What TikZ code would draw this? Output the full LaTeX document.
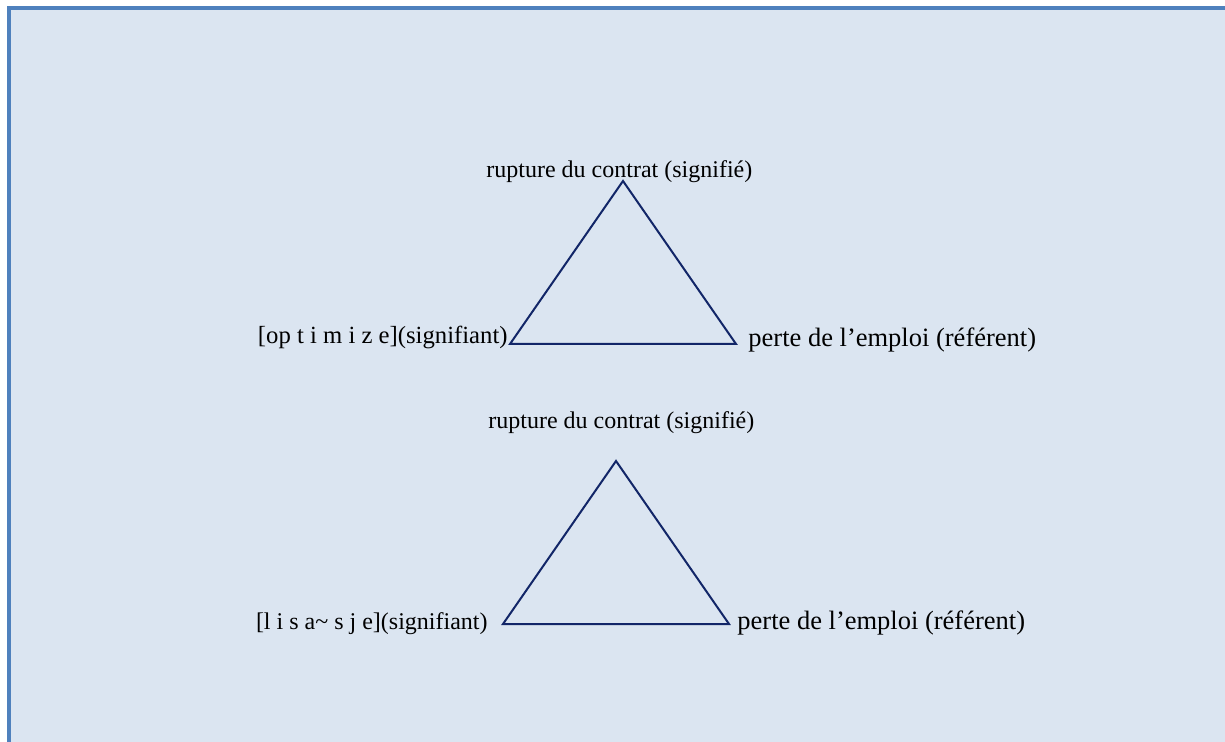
\documentclass[tikz,border=0pt]{standalone}
\usepackage{fontspec}
\setmainfont{Liberation Serif}
\usetikzlibrary{positioning}
\definecolor{panelblue}{RGB}{219,229,241}
\definecolor{frameblue}{RGB}{79,129,189}
\definecolor{linenavy}{RGB}{18,38,104}

\begin{document}
\begin{tikzpicture}[x=0.5pt,y=-0.5pt,
    lbl/.style={inner sep=0pt,font=\fontsize{12}{14}\selectfont},
    reflbl/.style={inner sep=0pt,font=\fontsize{13.25}{15}\selectfont},
    tri/.style={linenavy,line width=1pt,line join=miter}]

        % FRAME
        \useasboundingbox (0,0) rectangle (1225,742);
        \fill[panelblue] (7,6) rectangle (1225,742);
        \draw[frameblue,line width=2pt] (9,742) -- (9,8) -- (1225,8);

        % COORDINATES
        \coordinate (T1) at (623,181); % apex, upper
        \coordinate (L1) at (510,344);
        \coordinate (R1) at (736,344);
        \coordinate (T2) at (616,461); % apex, lower
        \coordinate (L2) at (503,624);
        \coordinate (R2) at (729,624);

        % TRIANGLES
        \draw[tri] (L1) -- (T1) -- (R1) -- cycle;
        \draw[tri] (L2) -- (T2) -- (R2) -- cycle;

        % LABELS
        \node[lbl,anchor=base west] (sig1) at (486,178) {rupture du contrat (signifié)};
        \node[lbl,anchor=base east,font=\fontsize{12.35}{14}\selectfont] (sgt1) at (508,344) {[op t i m i z e](signifiant)};
        \node[reflbl,anchor=base west] (ref1) at (748,347) {perte de l’emploi (référent)};
        \node[lbl,anchor=base west] (sig2) at (488,429) {rupture du contrat (signifié)};
        \node[lbl,anchor=base east] (sgt2) at (488,629) {[l i s a\textasciitilde{} s j e](signifiant)};
        \node[reflbl,anchor=base west] (ref2) at (737,629) {perte de l’emploi (référent)};

    \end{tikzpicture}
\end{document}
